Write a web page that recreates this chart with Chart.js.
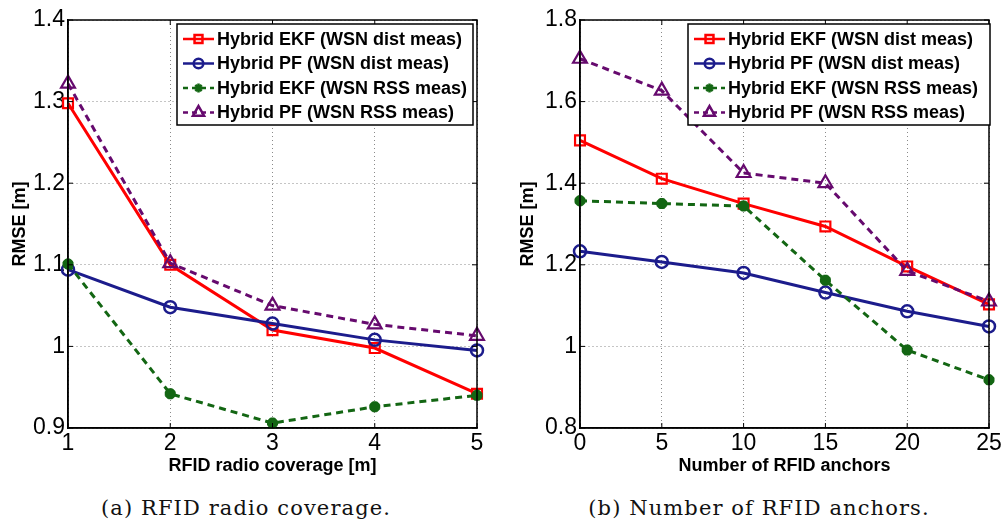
<!DOCTYPE html>
<html>
<head>
<meta charset="utf-8">
<script src="https://cdn.jsdelivr.net/npm/chart.js@4.4.1/dist/chart.umd.min.js"></script>
<style>
  body { margin: 0; background: #fff; }
  #wrap { position: relative; width: 1005px; height: 525px; overflow: hidden; }
  .panel { position: absolute; top: 0; height: 480px; }
  .caption {
    position: absolute; top: 495px; transform: translateX(-50%);
    font-family: "DejaVu Serif", serif; font-size: 21px; letter-spacing: 1.1px;
    color: #111; white-space: nowrap; line-height: 26px;
  }
</style>
</head>
<body>
<div id="wrap">
  <div class="panel" style="left:0;width:500px"><canvas id="coverageChart"></canvas></div>
  <div class="panel" style="left:500px;width:505px"><canvas id="anchorsChart"></canvas></div>
  <div class="caption" style="left:246px">(a) RFID radio coverage.</div>
  <div class="caption" style="left:759px">(b) Number of RFID anchors.</div>
</div>
<script>
// (a) RMSE vs RFID radio coverage [m]
const coverage = [1, 2, 3, 4, 5];
const coverageEkfDist = [1.298, 1.100, 1.020, 0.998, 0.942];
const coveragePfDist = [1.094, 1.048, 1.028, 1.008, 0.995];
const coverageEkfRss = [1.101, 0.942, 0.906, 0.926, 0.940];
const coveragePfRss = [1.322, 1.102, 1.050, 1.027, 1.013];

// (b) RMSE vs number of RFID anchors
const anchors = [0, 5, 10, 15, 20, 25];
const anchorsEkfDist = [1.505, 1.411, 1.350, 1.294, 1.196, 1.103];
const anchorsPfDist = [1.233, 1.207, 1.180, 1.132, 1.086, 1.049];
const anchorsEkfRss = [1.357, 1.350, 1.344, 1.162, 0.991, 0.918];
const anchorsPfRss = [1.705, 1.627, 1.425, 1.400, 1.185, 1.110];

const seriesLabels = [
  'Hybrid EKF (WSN dist meas)',
  'Hybrid PF (WSN dist meas)',
  'Hybrid EKF (WSN RSS meas)',
  'Hybrid PF (WSN RSS meas)'
];

const SANS = '"Liberation Sans", Arial, sans-serif';

// line + marker style for each series, matlab-like
const styles = [
  { color: '#ff0000', dash: [], pointStyle: 'rect', radius: 7, fill: 'rgba(0,0,0,0)', pw: 2.2 },
  { color: '#1c1c8c', dash: [], pointStyle: 'circle', radius: 6, fill: 'rgba(0,0,0,0)', pw: 2.5 },
  { color: '#136613', dash: [7, 5], pointStyle: 'star', radius: 5.5, fill: '#136613', pw: 4 },
  { color: '#660a6e', dash: [7, 5], pointStyle: 'triangle', radius: 8, fill: 'rgba(0,0,0,0)', pw: 2.2 }
];

// black frame round the plot area with inward tick marks on all four sides
const frameTicks = {
  id: 'frameTicks',
  afterDatasetsDraw(chart) {
    const { ctx, chartArea: a, scales } = chart;
    ctx.save();
    ctx.strokeStyle = '#000';
    ctx.lineWidth = 1.5;
    ctx.setLineDash([]);
    ctx.strokeRect(a.left, a.top, a.right - a.left, a.bottom - a.top);
    ctx.lineWidth = 1;
    ctx.beginPath();
    scales.x.ticks.forEach(t => {
      const px = scales.x.getPixelForValue(t.value);
      ctx.moveTo(px, a.bottom); ctx.lineTo(px, a.bottom - 5);
      ctx.moveTo(px, a.top); ctx.lineTo(px, a.top + 5);
    });
    scales.y.ticks.forEach(t => {
      const py = scales.y.getPixelForValue(t.value);
      ctx.moveTo(a.left, py); ctx.lineTo(a.left + 5, py);
      ctx.moveTo(a.right, py); ctx.lineTo(a.right - 5, py);
    });
    ctx.stroke();
    ctx.restore();
  }
};

// legend box in the top right corner, line sample with marker
const boxLegend = {
  id: 'boxLegend',
  afterDraw(chart, args, opts) {
    const { ctx, chartArea: a } = chart;
    const w = opts.width, h = 101;
    const bx = a.right + opts.shift - w, by = a.top + 4;
    ctx.save();
    ctx.fillStyle = '#fff';
    ctx.fillRect(bx, by, w, h);
    ctx.strokeStyle = '#000';
    ctx.lineWidth = 1.5;
    ctx.strokeRect(bx, by, w, h);
    chart.data.datasets.forEach((ds, i) => {
      const st = styles[i];
      const y = by + 15 + i * 24.5;
      ctx.strokeStyle = st.color;
      ctx.lineWidth = 2.5;
      ctx.setLineDash(st.dash.length ? [5, 4] : []);
      ctx.beginPath();
      ctx.moveTo(bx + 6, y); ctx.lineTo(bx + 37, y);
      ctx.stroke();
      ctx.setLineDash([]);
      ctx.fillStyle = st.fill;
      Chart.helpers.drawPoint(ctx, {
        pointStyle: st.pointStyle, rotation: 0,
        radius: st.radius * 0.8, borderWidth: st.pw
      }, bx + 21.5, y);
      ctx.fillStyle = '#000';
      ctx.font = 'bold 18px ' + SANS;
      ctx.textAlign = 'left';
      ctx.textBaseline = 'middle';
      ctx.fillText(ds.label, bx + 40, y + 1);
    });
    ctx.restore();
  }
};

// matlab prints 1 rather than 1.0
const shortNum = v => String(Math.round(v * 100) / 100);

function makeChart(id, xs, ys, cfg) {
  const datasets = ys.map((vals, i) => {
    const st = styles[i];
    return {
      label: seriesLabels[i],
      data: xs.map((x, j) => ({ x: x, y: vals[j] })),
      borderColor: st.color,
      borderWidth: 3,
      borderDash: st.dash,
      pointStyle: st.pointStyle,
      pointRadius: st.radius,
      pointBorderWidth: st.pw,
      pointBackgroundColor: st.fill,
      pointBorderColor: st.color,
      tension: 0,
      clip: false,
      order: 4 - i
    };
  });

  const tickFont = { family: SANS, size: 23 };
  const titleFont = { family: SANS, size: 18, weight: 'bold' };
  const grid = { color: '#8a8a8a', lineWidth: 1, drawTicks: false };
  const border = { display: true, color: '#000', width: 1.5, dash: [1, 3] };

  return new Chart(document.getElementById(id), {
    type: 'line',
    data: { datasets: datasets },
    options: {
      responsive: true,
      maintainAspectRatio: false,
      animation: false,
      events: [],
      layout: { padding: { left: 0, top: 20, right: cfg.padRight, bottom: 0 } },
      plugins: {
        legend: { display: false },
        tooltip: { enabled: false },
        boxLegend: { width: cfg.legendWidth, shift: cfg.legendShift }
      },
      scales: {
        x: {
          type: 'linear',
          min: cfg.xMin, max: cfg.xMax,
          ticks: { stepSize: cfg.xStep, font: tickFont, color: '#000', padding: 2, maxRotation: 0, callback: shortNum },
          grid: grid, border: border,
          title: { display: true, text: cfg.xTitle, font: titleFont, color: '#000', padding: { top: 0, bottom: 3 } },
          afterFit: s => { s.height = 52; }
        },
        y: {
          min: cfg.yMin, max: cfg.yMax,
          ticks: { stepSize: cfg.yStep, font: tickFont, color: '#000', padding: 3, callback: shortNum },
          grid: grid, border: border,
          title: { display: true, text: 'RMSE [m]', font: titleFont, color: '#000', padding: { top: cfg.yTitlePad, bottom: 0 } },
          afterFit: s => { s.width = cfg.yWidth; }
        }
      }
    },
    plugins: [frameTicks, boxLegend]
  });
}

makeChart('coverageChart', coverage,
  [coverageEkfDist, coveragePfDist, coverageEkfRss, coveragePfRss], {
    xMin: 1, xMax: 5, xStep: 1, yMin: 0.9, yMax: 1.4, yStep: 0.1,
    xTitle: 'RFID radio coverage [m]', yWidth: 68, yTitlePad: 9,
    padRight: 23, legendWidth: 296, legendShift: -4
  });

makeChart('anchorsChart', anchors,
  [anchorsEkfDist, anchorsPfDist, anchorsEkfRss, anchorsPfRss], {
    xMin: 0, xMax: 25, xStep: 5, yMin: 0.8, yMax: 1.8, yStep: 0.2,
    xTitle: 'Number of RFID anchors', yWidth: 80, yTitlePad: 17,
    padRight: 16, legendWidth: 302, legendShift: 1
  });
</script>
</body>
</html>
